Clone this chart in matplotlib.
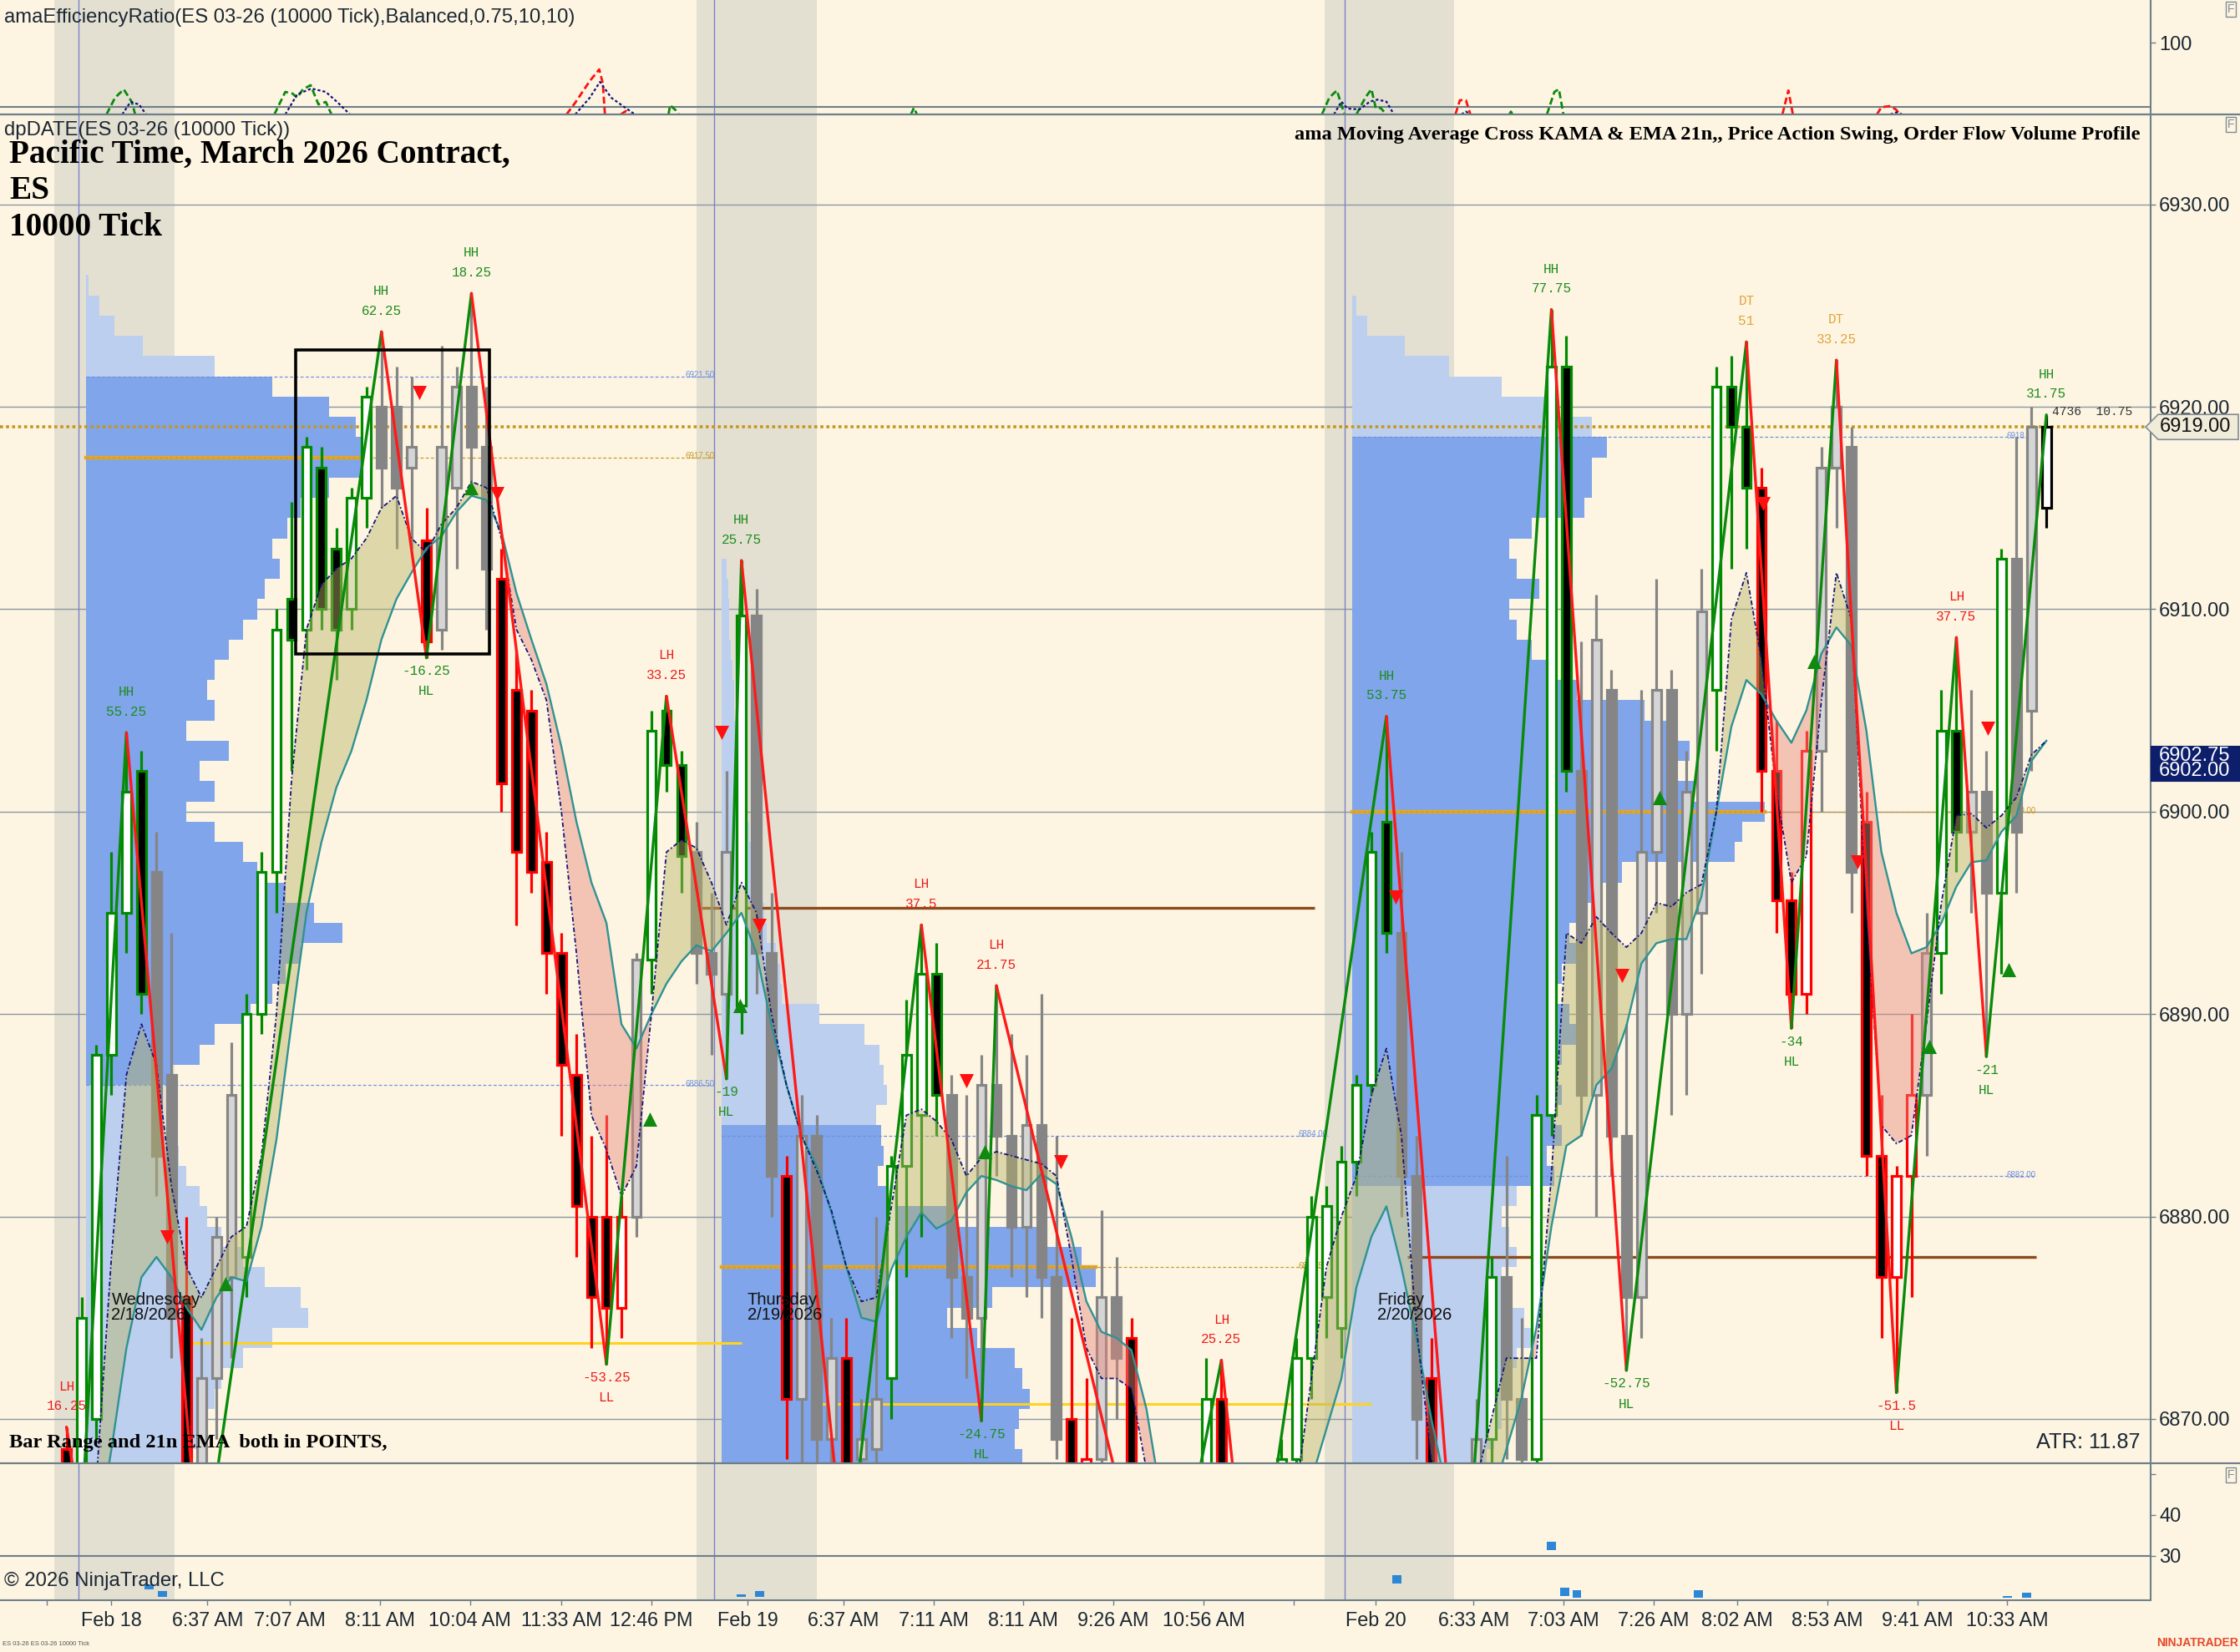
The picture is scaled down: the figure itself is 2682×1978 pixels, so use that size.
import numpy as np
import matplotlib
matplotlib.use("Agg")
import matplotlib.pyplot as plt
from matplotlib.patches import Rectangle, Polygon
from matplotlib.transforms import blended_transform_factory

plt.rcParams['font.family'] = ['Liberation Sans', 'DejaVu Sans']

W, H = 2682, 1978
BG = '#fdf5e2'
SHADE = '#e3e0d2'
AXC = '#6f7f88'
TXT = '#1c2733'
nan = np.nan

# ---------------- bars (ES 03-26, 10000 tick), one slot per bar ----------------
first_bar = 3
bar_open = [
    6868.5, 6867.0, 6870.0, 6888.0, 6895.0, 6902.0, 6897.0, 6887.0, 6876.0, 6866.0,   # 3-12
    6872.0, 6877.0, 6878.0, 6890.0, 6897.0, 6910.5, 6909.0, 6917.0, 6913.0, 6910.0,   # 13-22
    6915.5, 6920.0, 6920.0, 6917.0, 6913.4, 6909.0, 6916.0, 6921.0, 6918.0, 6911.5,   # 23-32
    6906.0, 6905.0, 6897.5, 6893.0, 6887.0, 6880.0, 6880.0, 6875.5, 6880.0, 6892.7,   # 33-42
    6905.0, 6902.3, 6898.0, 6893.0, 6891.0, 6890.4, 6909.7, 6893.0, 6882.0, 6871.0,   # 43-52
    6884.0, 6869.0, 6873.0, 6868.0, 6868.5, 6872.0, 6882.5, 6885.0, 6892.0, 6886.0,   # 53-62
    6877.0, 6875.0, 6886.5, 6884.0, 6879.5, 6884.5, 6877.0, 6870.0, 6867.5, 6868.0,   # 63-72
    6876.0, 6874.0, 6867.0, 6864.0, 6862.0, 6864.0, 6866.0, 6871.0, 6866.0, 6863.0,   # 73-82
    6862.0, 6865.0, 6868.0, 6873.0, 6876.0, 6874.5, 6882.7, 6886.5, 6899.5, 6894.0,   # 83-92
    6882.0, 6872.0, 6866.0, 6862.0, 6864.0, 6869.0, 6877.0, 6871.0, 6868.0, 6885.0,   # 93-102
    6922.0, 6902.0, 6886.0, 6906.0, 6884.0, 6876.0, 6898.0, 6906.0, 6890.0, 6895.0,   # 103-112
    6906.0, 6921.0, 6919.0, 6916.0, 6902.0, 6895.6, 6891.0, 6903.0, 6917.0, 6918.0,   # 113-122
    6899.5, 6883.0, 6877.0, 6882.0, 6886.0, 6893.0, 6904.0, 6899.0, 6901.0, 6896.0,   # 123-132
    6912.5, 6905.0, 6915.0]                                                           # 133-135
bar_high = [
    6869.6, 6876.0, 6888.5, 6898.0, 6903.9, 6903.0, 6899.0, 6894.0, 6880.0, 6874.0,
    6880.0, 6888.6, 6891.0, 6898.0, 6910.0, 6915.3, 6918.5, 6918.0, 6914.0, 6916.0,
    6921.0, 6923.7, 6922.0, 6921.5, 6915.0, 6923.0, 6922.0, 6925.6, 6921.0, 6913.0,
    6908.0, 6906.0, 6899.0, 6894.0, 6889.0, 6884.0, 6885.0, 6881.0, 6893.0, 6905.0,
    6905.7, 6903.0, 6899.5, 6896.0, 6902.0, 6912.4, 6911.0, 6896.0, 6883.0, 6886.0,
    6885.0, 6875.0, 6875.0, 6871.0, 6880.0, 6883.0, 6890.7, 6894.4, 6893.5, 6887.0,
    6886.0, 6888.0, 6891.4, 6889.0, 6888.0, 6891.0, 6884.0, 6875.0, 6872.0, 6880.3,
    6878.0, 6875.0, 6867.5, 6866.0, 6865.0, 6867.0, 6873.0, 6872.9, 6867.0, 6865.0,
    6866.0, 6869.0, 6874.0, 6881.0, 6881.5, 6883.5, 6887.0, 6899.0, 6904.7, 6898.0,
    6884.0, 6874.0, 6867.5, 6866.0, 6871.0, 6878.0, 6883.0, 6875.0, 6886.0, 6924.8,
    6923.5, 6908.4, 6910.7, 6907.0, 6889.5, 6906.0, 6911.5, 6907.0, 6903.0, 6912.0,
    6922.0, 6922.5, 6923.2, 6917.0, 6904.5, 6897.0, 6904.0, 6918.0, 6922.3, 6919.0,
    6901.0, 6886.0, 6882.5, 6890.0, 6895.0, 6906.0, 6908.6, 6906.0, 6903.0, 6913.0,
    6918.5, 6920.0, 6919.6]
bar_low = [
    6866.0, 6865.0, 6869.0, 6886.0, 6893.0, 6890.0, 6881.0, 6873.0, 6864.0, 6862.0,
    6869.0, 6873.0, 6876.0, 6889.0, 6895.0, 6902.0, 6907.0, 6909.0, 6906.5, 6909.0,
    6914.0, 6915.0, 6913.0, 6913.0, 6907.6, 6908.0, 6912.0, 6916.0, 6909.0, 6900.0,
    6894.4, 6896.0, 6891.0, 6884.0, 6878.0, 6873.5, 6872.7, 6874.0, 6879.0, 6891.0,
    6901.0, 6896.0, 6891.5, 6888.0, 6886.8, 6889.0, 6891.0, 6880.0, 6868.0, 6867.0,
    6866.0, 6866.0, 6862.0, 6866.0, 6866.0, 6870.0, 6877.0, 6879.0, 6884.0, 6874.0,
    6872.0, 6869.9, 6882.0, 6877.0, 6876.0, 6875.0, 6868.0, 6866.0, 6866.0, 6867.0,
    6870.0, 6866.0, 6862.0, 6858.0, 6859.0, 6862.0, 6865.0, 6864.0, 6861.0, 6859.0,
    6861.0, 6864.0, 6866.0, 6871.0, 6874.0, 6873.0, 6881.0, 6886.0, 6893.0, 6880.0,
    6868.0, 6865.0, 6860.0, 6858.0, 6862.0, 6866.0, 6868.0, 6866.0, 6867.0, 6884.0,
    6901.0, 6884.0, 6880.0, 6882.0, 6872.4, 6874.0, 6895.0, 6885.0, 6886.0, 6892.0,
    6903.0, 6912.0, 6913.0, 6900.0, 6894.0, 6889.3, 6890.0, 6900.0, 6914.0, 6895.0,
    6882.0, 6874.0, 6871.3, 6876.0, 6883.0, 6891.0, 6897.0, 6895.0, 6887.9, 6892.0,
    6896.0, 6902.0, 6914.0]
bar_close = [
    6867.0, 6875.0, 6888.0, 6895.0, 6901.0, 6891.0, 6883.0, 6875.0, 6866.0, 6872.0,
    6879.0, 6886.0, 6890.0, 6897.0, 6909.0, 6908.5, 6918.0, 6910.0, 6909.0, 6915.5,
    6920.5, 6917.0, 6916.0, 6918.0, 6908.4, 6918.0, 6921.0, 6918.0, 6912.0, 6901.4,
    6898.0, 6897.0, 6893.0, 6887.5, 6880.5, 6876.0, 6875.5, 6880.0, 6892.7, 6904.0,
    6902.3, 6897.8, 6893.0, 6892.0, 6898.0, 6909.7, 6893.0, 6882.0, 6871.0, 6884.0,
    6869.0, 6873.0, 6867.0, 6869.0, 6871.0, 6882.5, 6888.0, 6892.0, 6886.0, 6877.0,
    6875.0, 6886.5, 6884.0, 6879.5, 6884.5, 6877.0, 6869.0, 6867.0, 6868.0, 6876.0,
    6873.0, 6867.0, 6864.0, 6862.0, 6864.0, 6866.0, 6871.0, 6866.0, 6863.0, 6862.0,
    6865.0, 6868.0, 6873.0, 6880.0, 6880.5, 6882.7, 6886.5, 6898.0, 6894.0, 6882.0,
    6870.0, 6866.0, 6862.0, 6864.0, 6869.0, 6877.0, 6871.0, 6868.0, 6885.0, 6922.0,
    6902.0, 6886.0, 6908.5, 6884.0, 6876.0, 6898.0, 6906.0, 6890.0, 6901.0, 6909.9,
    6921.0, 6919.0, 6916.0, 6902.0, 6895.6, 6891.0, 6903.0, 6917.0, 6920.0, 6897.0,
    6883.0, 6877.0, 6882.0, 6886.0, 6893.0, 6904.0, 6899.0, 6901.0, 6896.0, 6912.5,
    6899.0, 6919.0, 6919.0]
# g = bullish colour, r = bearish colour, n = neutral (grey), k = current bar
bar_state = ("r" "ggggg" "nn" "r" "nnn" "ggggggggg" "nnn" "r" "nnnn" "rrrrrrrrr"
             "n" "ggg" "nnn" "g" "nn" "r" "nnn" "r" "nn" "gggg" "nnnnnnnn" "rr"
             "nn" "rrr" "nn" "g" "rr" "n" "ggggggggg" "nn" "rr" "nn" "g" "nn" "ggg"
             "nnnnnnnnn" "ggg" "rrrr" "nnn" "rrrr" "n" "gg" "nn" "g" "nn" "k")

# KAMA (navy dash-dot) and EMA 21 (teal)
kama = [
    6858, 6862, 6867, 6878, 6887, 6889.5, 6887.5, 6881.5, 6877.5, 6876,
    6877.5, 6879, 6879.5, 6883, 6890, 6901.5, 6909, 6911.2, 6912, 6912.5,
    6913.5, 6915, 6915.6, 6913.5, 6912.8, 6914.2, 6915, 6916.3, 6916, 6913.5,
    6909, 6907.5, 6905.5, 6900, 6893, 6885, 6883.3, 6881, 6882.5, 6890,
    6898, 6898.6, 6898.2, 6896.5, 6894.4, 6896.5, 6895, 6890, 6886.5, 6884,
    6882.3, 6880.3, 6877.5, 6875.8, 6876, 6880.5, 6885, 6885.3, 6884.7, 6883.8,
    6882, 6882.9, 6883.2, 6883, 6882.8, 6882.6, 6882, 6878, 6873.5, 6872,
    6872, 6871.5, 6867.5, 6865, 6864, 6864, 6865, 6866, 6865, 6864,
    6863, 6863.5, 6866.5, 6872, 6877.5, 6880, 6882, 6886, 6888.3, 6884,
    6874.5, 6868, 6866, 6866, 6867, 6870, 6873, 6873, 6873, 6882,
    6894, 6893.5, 6894.8, 6894, 6893.3, 6894, 6895.5, 6895.3, 6896, 6896.4,
    6900, 6909.5, 6911.8, 6907.5, 6901, 6896.5, 6897.8, 6905.5, 6911.8, 6909.5,
    6895, 6884.5, 6883.6, 6884, 6889.5, 6895.5, 6899.8, 6899.9, 6899.2, 6899.8,
    6900.7, 6902.8, 6903.5]
ema21 = [
    6855, 6859, 6864, 6868.5, 6873.5, 6877, 6878, 6877, 6875.5, 6874.4,
    6876, 6877, 6876.8, 6879.5, 6883.8, 6889.5, 6895, 6898.5, 6901.2, 6903,
    6905.5, 6908.5, 6910.5, 6911.8, 6913, 6913.6, 6914.8, 6915.6, 6915.4, 6913.8,
    6910.8, 6908.5, 6906.3, 6903.2, 6899.5, 6896.5, 6894.5, 6889.5, 6888.3, 6890,
    6891.5, 6892.6, 6893.4, 6893.1, 6894, 6895, 6893, 6889.5, 6886.5, 6884,
    6882.5, 6880.2, 6877.5, 6875, 6874.8, 6877.4, 6879, 6880.2, 6879.4, 6879.8,
    6881.2, 6882, 6881.8, 6881.5, 6881.3, 6882.1, 6881.6, 6879, 6875.8, 6874.3,
    6874, 6873.4, 6870.5, 6866, 6864.5, 6863.5, 6863, 6863, 6863, 6862.5,
    6862.5, 6863.5, 6865, 6867, 6869.5, 6872, 6876.5, 6879, 6880.5, 6877.5,
    6874, 6870, 6866.5, 6864, 6864, 6866, 6868.5, 6871, 6874.5, 6879.5,
    6883.5, 6884, 6886.5, 6887.3, 6889.4, 6892.5, 6893.5, 6893.7, 6893.7, 6895.8,
    6900, 6904.2, 6906.5, 6905.8, 6904.5, 6903.4, 6905, 6907.8, 6909.1, 6908.2,
    6904, 6898, 6895, 6893, 6893.3, 6894.5, 6896.3, 6897.5, 6897.6, 6899,
    6899.8, 6902.5, 6903.5]

# price action swings
swing_idx = [3, 4, 7, 12, 24, 27, 30, 39, 43, 47, 48, 55, 60, 64, 65, 76, 80, 82,
             91, 96, 102, 107, 115, 118, 121, 125, 129, 131, 135]
swing_px = [6869.6, 6865.0, 6903.9, 6862.0, 6923.7, 6907.6, 6925.6, 6872.7, 6905.7,
            6886.8, 6912.4, 6862.0, 6894.4, 6869.9, 6891.4, 6858.0, 6872.9, 6859.0,
            6904.7, 6858.0, 6924.8, 6872.4, 6923.2, 6889.3, 6922.3, 6871.3, 6908.6,
            6887.9, 6919.6]
swing_tag = ['LH', '', 'HH', '', 'HH', 'HL', 'HH', 'LL', 'LH', 'HL', 'HH', '', 'LH',
             'HL', 'LH', '', 'LH', '', 'HH', '', 'HH', 'HL', 'DT', 'HL', 'DT', 'LL',
             'LH', 'HL', 'HH']
swing_val = ['16.25', '', '55.25', '', '62.25', '-16.25', '18.25', '-53.25', '33.25',
             '-19', '25.75', '', '37.5', '-24.75', '21.75', '', '25.25', '', '53.75', '',
             '77.75', '-52.75', '51', '-34', '33.25', '-51.5', '37.75', '-21', '31.75']

# signal triangles
sig_dn_idx = [9.7, 26.5, 31.7, 46.7, 49.2, 63.0, 69.3, 91.6, 106.7, 116.1, 122.4, 131.1]
sig_dn_px = [6879.0, 6920.7, 6915.7, 6903.9, 6894.4, 6886.7, 6882.7, 6895.8, 6891.9,
             6915.2, 6897.5, 6904.1]
sig_up_idx = [13.6, 30.0, 41.9, 47.9, 64.2, 109.2, 119.5, 127.2, 132.5]
sig_up_px = [6876.7, 6916.0, 6884.8, 6890.4, 6883.2, 6900.7, 6907.4, 6888.4, 6892.2]

# order flow volume profiles (one row per point, from the lowest level up)
vp_anchor = [4.3, 46.7, 88.7]
vp_end = [46.2, 87.1, 134.3]
vp_low = [6868, 6868, 6868]
vp1_vol = [6.7, 7.6, 8.1, 8.6, 9.0, 10.5, 12.4, 14.8, 14.3, 11.9,
           10.5, 9.0, 8.1, 7.6, 6.7, 6.2, 5.2, 4.8, 4.8, 5.7,
           7.6, 8.6, 11.0, 12.4, 13.3, 14.3, 17.1, 15.2, 13.3, 11.4,
           10.5, 8.6, 6.7, 8.6, 7.6, 9.5, 6.7, 8.6, 8.1, 8.6,
           9.5, 10.5, 11.4, 11.9, 12.9, 12.4, 13.4, 14.3, 16.2, 19.0,
           18.5, 18.0, 16.2, 12.4, 8.6, 3.8, 1.9, 0.9, 0.2]
vp2_vol = [20, 19.5, 19.8, 20.5, 20, 19.5, 17, 15, 18, 24.9,
           24, 21, 15, 11, 10.4, 10.8, 10.6, 10.3, 11, 10.8,
           10.5, 9.5, 6.5, 4.0, 3.9, 3.6, 3.0, 2.8, 2.4, 2.2,
           2.0, 1.8, 1.6, 1.5, 1.3, 1.2, 1.0, 0.8, 0.8, 0.7,
           0.6, 0.5, 0.5, 0.4, 0.3]
vp3_vol = [9, 9.5, 10, 10, 10.5, 11, 12, 11.5, 10.5, 10,
           11, 10.5, 10, 11, 13.5, 13, 14, 13.5, 14, 13.5,
           14, 15, 14.5, 13.5, 14, 15, 14.5, 15, 16, 18,
           25.5, 26, 27.5, 22.8, 21, 22.5, 21, 19.5, 15, 13,
           12, 11, 10.5, 12.5, 11, 10.5, 12, 15.5, 16, 16,
           17, 16, 13, 10, 6.5, 3.5, 1.0, 0.3]
vp_vah = [6921.5, 6884.0, 6918.5]
vp_poc = [6917.5, 6877.5, 6900.0]
vp_val = [6886.5, 6860.0, 6882.0]

# reference levels
yellow_px, yellow_x0, yellow_x1 = [6873.75, 6870.75], [10.8, 53.3], [48.0, 90.0]
brown_px, brown_x0, brown_x1 = [6895.25, 6878.0], [44.6, 92.4], [86.2, 134.3]
box_x, box_y = [18.3, 31.2], [6907.8, 6922.8]
last_price = 6919.0
ma_tags = [6902.75, 6902.00]

# sessions
shade_x0, shade_x1 = [2.2, 45.0, 86.9], [10.2, 53.0, 95.5]
day_sep = [3.8, 46.2, 88.2]
day_idx = [6.0, 48.4, 90.4]
day_txt = ['Wednesday\n2/18/2026', 'Thursday\n2/19/2026', 'Friday\n2/20/2026']

# efficiency ratio panel
er_green_x = [5.67, 6.24, 6.82, 7.36, 7.58, nan, 16.86, 17.59, 18.07, 18.38, 18.76, 19.28,
              19.8, 20.29, 20.67, nan, 43.14, 43.24, 43.62, 43.81, nan, 59.3, 59.5, 59.7,
              nan, 86.7, 87.2, 87.7, 88.2, nan, 89.0, 89.6, 90.0, 90.3, 90.6, 91.0, nan,
              99.2, 99.3, 99.4, nan, 101.7, 102.2, 102.5, 102.8]
er_green_v = [0, 23.4, 35, 17.5, 0, nan, 0, 31.5, 29.2, 23.4, 35, 40.9,
              14, 17.5, 0, nan, 0, 12.8, 5.8, 0, nan, 0, 9.3, 0,
              nan, 0, 23.7, 33.5, 0, nan, 0, 23.7, 35.3, 8.2, 9.3, 0, nan,
              0, 4, 0, nan, 0, 31.5, 35.3, 0]
er_red_x = [36.34, 36.92, 37.89, 38.52, 38.76, 38.9, nan, 39.96, 40.29, 40.57, nan,
            95.6, 95.9, 96.3, 96.6, nan, 117.4, 117.8, 118.1, nan,
            123.7, 124.0, 124.6, 125.0, 125.2]
er_red_v = [0, 16.4, 46.7, 63, 43.2, 0, nan, 0, 4.7, 0, nan,
            0, 19.9, 19.9, 0, nan, 0, 33.5, 0, nan,
            0, 10.1, 11.7, 6.4, 0]
er_navy_x = [6.72, 7.27, 7.84, 8.31, nan, 17.59, 18.38, 19.33, 20.29, 21.1, 21.9, nan,
             36.92, 37.89, 38.57, 39.32, 40.1, 40.9, nan, 87.5, 88.0, 88.4, 89.2, 89.9,
             90.4, 91.0, 91.5, nan, 96.0, 96.3, 96.6, nan, 124.6, 125.0, 125.4]
er_navy_v = [0, 17.5, 14, 0, nan, 0, 28, 36.2, 31.5, 16.4, 0, nan,
             0, 23.4, 45.5, 23.4, 11.7, 0, nan, 0, 17.9, 8.2, 7, 17.9,
             20.7, 17.9, 0, nan, 0, 4, 0, nan, 0, 3, 0]

# bar range panel
br_idx = [8.5, 9.4, 48.0, 49.2, 91.7, 102.0, 102.9, 103.7, 111.8, 132.4, 133.7]
br_lo = [21.7, 20.0, 20.0, 20.0, 23.2, 31.4, 20.1, 19.7, 19.7, 19.7, 19.7]
br_hi = [23.0, 21.4, 20.5, 21.4, 25.2, 33.4, 22.2, 21.6, 21.6, 20.1, 21.0]

tick_pos = [1.7, 6.0, 12.4, 17.9, 23.9, 29.9, 36.0, 42.0, 48.4, 54.8, 60.8, 66.8, 72.8,
            78.8, 84.8, 90.3, 96.8, 102.8, 108.8, 114.4, 120.4, 126.4, 132.4]
tick_lab = ['', 'Feb 18', '6:37 AM', '7:07 AM', '8:11 AM', '10:04 AM', '11:33 AM',
            '12:46 PM', 'Feb 19', '6:37 AM', '7:11 AM', '8:11 AM', '9:26 AM', '10:56 AM',
            '', 'Feb 20', '6:33 AM', '7:03 AM', '7:26 AM', '8:02 AM', '8:53 AM',
            '9:41 AM', '10:33 AM']

# ---------------- layout ----------------
def fx(px):
    return px / W


def fy(py):
    return 1 - py / H


PR = 2575
fig = plt.figure(figsize=(W / 100, H / 100), dpi=100, facecolor=BG)
ax_er = fig.add_axes([0, fy(137), fx(PR), 137 / H])
ax = fig.add_axes([0, fy(1752), fx(PR), (1752 - 137) / H])
ax_br = fig.add_axes([0, fy(1916), fx(PR), (1916 - 1752) / H])

for a in (ax_er, ax, ax_br):
    a.set_facecolor(BG)
    a.set_xlim(-1.43, 141.95)
    for s in a.spines.values():
        s.set_visible(False)
    a.spines['right'].set_visible(True)
    a.spines['right'].set_color(AXC)
    a.spines['right'].set_linewidth(1.5)
    a.yaxis.tick_right()
    a.tick_params(axis='y', direction='out', length=4.3, width=1, color=AXC, pad=3,
                  labelsize=17, labelcolor=TXT)
    a.tick_params(axis='x', bottom=False, labelbottom=False)
    for x0, x1 in zip(shade_x0, shade_x1):
        a.axvspan(x0, x1, color=SHADE, lw=0, zorder=0)
    for x in day_sep:
        a.axvline(x, color='#7c80c8', lw=1.0, zorder=0.6)

# ---------------- main price panel ----------------
ax.set_ylim(6867.81, 6934.44)
grid_px = [6870, 6880, 6890, 6900, 6910, 6920, 6930]
ax.set_yticks(grid_px)
ax.set_yticklabels([f'{v:.2f}' for v in grid_px])
for v in grid_px:
    ax.axhline(v, color='#8c98a1', lw=1.0, zorder=0.5)

# volume profiles
for k, vol in enumerate([vp1_vol, vp2_vol, vp3_vol]):
    lv = vp_low[k] + np.arange(len(vol))
    cols = ['#80a5ea' if vp_val[k] <= p <= vp_vah[k] else '#bccfee' for p in lv]
    ax.barh(lv, vol, left=vp_anchor[k], height=1.0, color=cols, lw=0, zorder=1.5)
    ax.plot([vp_anchor[k], vp_anchor[k] + max(vol)], [vp_poc[k]] * 2, color='#e2a72c',
            lw=3.2, zorder=1.6)
    for p, c in [(vp_vah[k], '#7090e0'), (vp_poc[k], '#c99a2a'), (vp_val[k], '#7090e0')]:
        if p < 6868:
            continue
        ax.plot([vp_anchor[k], vp_end[k]], [p, p], color=c, lw=0.9, ls=(0, (3, 2)),
                zorder=1.7)
        ax.text(vp_end[k], p + 0.05, f'{p:.2f}', color=c, fontsize=7, ha='right',
                va='center', zorder=1.8)

ax.hlines(yellow_px, yellow_x0, yellow_x1, color='#ffd21c', lw=2.2, zorder=2)
ax.hlines(brown_px, brown_x0, brown_x1, color='#8b4a1c', lw=2.4, zorder=2)

# candles
o = np.array(bar_open)
hi = np.array(bar_high)
lo = np.array(bar_low)
c = np.array(bar_close)
idx = first_bar + np.arange(len(o))
edge_map = {'g': '#008a00', 'r': '#ff0000', 'n': '#858585', 'k': '#000000'}
edges, faces = [], []
for s, oo, cc in zip(bar_state, o, c):
    edges.append(edge_map[s])
    if s == 'n':
        faces.append('#d5d5d5' if cc >= oo else '#858585')
    else:
        faces.append('white' if cc >= oo else 'black')
body = np.abs(c - o)
body = np.where(body < 0.3, 0.3, body)
ax.vlines(idx, lo, hi, colors=edges, lw=2.3, zorder=3)
ax.bar(idx, body, bottom=np.minimum(o, c), width=0.6, color=faces, edgecolor=edges,
       linewidth=2.3, zorder=3.2)

# KAMA / EMA cloud
km = np.array(kama, dtype=float)
em = np.array(ema21, dtype=float)
ax.fill_between(idx, km, em, where=km >= em, interpolate=True, color='#b9b366',
                alpha=0.45, lw=0, zorder=3.5)
ax.fill_between(idx, km, em, where=km < em, interpolate=True, color='#e9897c',
                alpha=0.45, lw=0, zorder=3.5)
ax.plot(idx, em, color='#2f9292', lw=1.7, zorder=4)
ax.plot(idx, km, color='#14147a', lw=1.3, ls=(0, (3, 1.5, 1, 1.5)), zorder=4.1)

# swings
for k in range(len(swing_idx) - 1):
    col = '#0a8a0a' if swing_px[k + 1] > swing_px[k] else '#ff1a1a'
    ax.plot(swing_idx[k:k + 2], swing_px[k:k + 2], color=col, lw=2.4, zorder=5,
            solid_capstyle='round')
tag_col = {'HH': '#1d8c1d', 'HL': '#1d8c1d', 'LH': '#ee1b1b', 'LL': '#ee1b1b',
           'DT': '#e3a33b'}
for x, p, tag, val in zip(swing_idx, swing_px, swing_tag, swing_val):
    if not tag:
        continue
    top = tag in ('HH', 'LH', 'DT')
    d_tag, d_val = (35, 18) if top else (-29, -11.5)
    for txt, d in ((tag, d_tag), (val, d_val)):
        ax.annotate(txt, (x, p), xytext=(0, d), textcoords='offset points', ha='center',
                    va='center', fontsize=11.5, family='Liberation Mono',
                    color=tag_col[tag], zorder=7)

ax.scatter(sig_dn_idx, sig_dn_px, marker='v', s=150, color='#ff1010', lw=0, zorder=6)
ax.scatter(sig_up_idx, sig_up_px, marker='^', s=150, color='#0f8a0f', lw=0, zorder=6)

ax.add_patch(Rectangle((box_x[0], box_y[0]), box_x[1] - box_x[0], box_y[1] - box_y[0],
                       fill=False, ec='black', lw=2.6, zorder=6))
ax.axhline(last_price, color='#c8961e', lw=2.6, ls=(0, (1.0, 1.0)), zorder=2.5)

for x, t in zip(day_idx, day_txt):
    ax.text(x, 6875.5, t, fontsize=14.5, color='#111111', ha='left', va='center',
            linespacing=0.95, zorder=7)
ax.text(135.4, 6919.77, '4736  10.75', fontsize=10.5, family='Liberation Mono',
        color='#333333', ha='left', va='center', zorder=7)

# price tags on the axis
tr = blended_transform_factory(fig.transFigure, ax.transData)
for p in ma_tags:
    fig.add_artist(Rectangle((fx(2575), p - 0.5), fx(2682) - fx(2575), 1.0, transform=tr,
                             fc='#0d1e6b', ec='#0d1e6b', lw=0.8))
    fig.text(fx(2585), p, f'{p:.2f}', transform=tr, color='white', fontsize=17,
             va='center', ha='left')
dp = 0.62
fig.add_artist(Polygon([(fx(2569), last_price), (fx(2584), last_price + dp),
                        (fx(2680), last_price + dp), (fx(2680), last_price - dp),
                        (fx(2584), last_price - dp)], closed=True, transform=tr,
                       fc='#f1ebd9', ec='#7f8c95', lw=1.2))
fig.text(fx(2586), last_price, f'{last_price:.2f}', transform=tr, color='#111111',
         fontsize=17, va='center', ha='left')

# ---------------- efficiency ratio panel ----------------
ax_er.set_ylim(0, 160)
ax_er.set_yticks([100])
ax_er.set_yticklabels(['100'])
ax_er.axhline(10, color=AXC, lw=1.5, zorder=0.7)
ax_er.plot(er_green_x, er_green_v, color='#0a8a0a', lw=2.0, ls=(0, (3, 1.5)), zorder=3)
ax_er.plot(er_red_x, er_red_v, color='#ff1010', lw=2.0, ls=(0, (3, 1.5)), zorder=3)
ax_er.plot(er_navy_x, er_navy_v, color='#14147a', lw=1.6, ls=(0, (1.5, 1.2)), zorder=3.1)

# ---------------- bar range panel ----------------
ax_br.set_ylim(19.1, 52.7)
ax_br.set_yticks([30, 40, 50])
ax_br.set_yticklabels(['30', '40', ''])
ax_br.axhline(30, color=AXC, lw=1.5, zorder=0.7)
ax_br.bar(br_idx, np.array(br_hi) - np.array(br_lo), bottom=br_lo, width=0.6,
          color='#2c87d6', lw=0, zorder=3)
ax_br.spines['bottom'].set_visible(True)
ax_br.spines['bottom'].set_color(AXC)
ax_br.spines['bottom'].set_linewidth(1.5)
ax_br.set_xticks(tick_pos)
ax_br.set_xticklabels(tick_lab)
ax_br.tick_params(axis='x', bottom=True, labelbottom=True, direction='out', length=4.3,
                  width=1, color=AXC, pad=5, labelsize=16.8, labelcolor=TXT)

# panel separators
for py in (137, 1752):
    fig.add_artist(plt.Line2D([0, 1], [fy(py), fy(py)], color=AXC, lw=1.6))

# ---------------- texts ----------------
fig.text(fx(5), fy(21), 'amaEfficiencyRatio(ES 03-26 (10000 Tick),Balanced,0.75,10,10)',
         fontsize=17.2, color=TXT, va='center', ha='left')
fig.text(fx(5), fy(156), 'dpDATE(ES 03-26 (10000 Tick))', fontsize=17.2, color=TXT,
         va='center', ha='left', zorder=5)
serif = ['Liberation Serif', 'DejaVu Serif']
for t, py in (('Pacific Time, March 2026 Contract,', 185), ('ES', 228), ('10000 Tick', 273)):
    fig.text(fx(11), fy(py), t, fontsize=28.3, family=serif, weight='bold', color='black',
             va='center', ha='left', zorder=5)
fig.text(fx(2562), fy(162),
         'ama Moving Average Cross KAMA & EMA 21n,, Price Action Swing, Order Flow Volume Profile',
         fontsize=17.6, family=serif, weight='bold', color='black', va='center', ha='right',
         zorder=5)
fig.text(fx(11), fy(1727), 'Bar Range and 21n EMA  both in POINTS,', fontsize=17.6,
         family=serif, weight='bold', color='black', va='center', ha='left', zorder=5)
fig.text(fx(2563), fy(1727), 'ATR: 11.87', fontsize=18.3, color=TXT, va='center', ha='right',
         zorder=5)
fig.text(fx(5), fy(1893), '\u00a9 2026 NinjaTrader, LLC', fontsize=17.2, color=TXT,
         va='center', ha='left', zorder=5)
fig.text(fx(2680), fy(1967), 'NINJATRADER', fontsize=10, weight='bold', color='#e8462a',
         va='center', ha='right')
fig.text(fx(3), fy(1968), 'ES 03-26 ES 03-26 10000 Tick', fontsize=5.5, color='#555555',
         va='center', ha='left')
for py in (11, 149, 1766):
    fig.text(fx(2671), fy(py), 'F', fontsize=10, color='#7f8c95', va='center', ha='center',
             bbox=dict(boxstyle='square,pad=0.15', fc=BG, ec='#7f8c95', lw=1))

fig.savefig('out.png', dpi=100, facecolor=BG)
